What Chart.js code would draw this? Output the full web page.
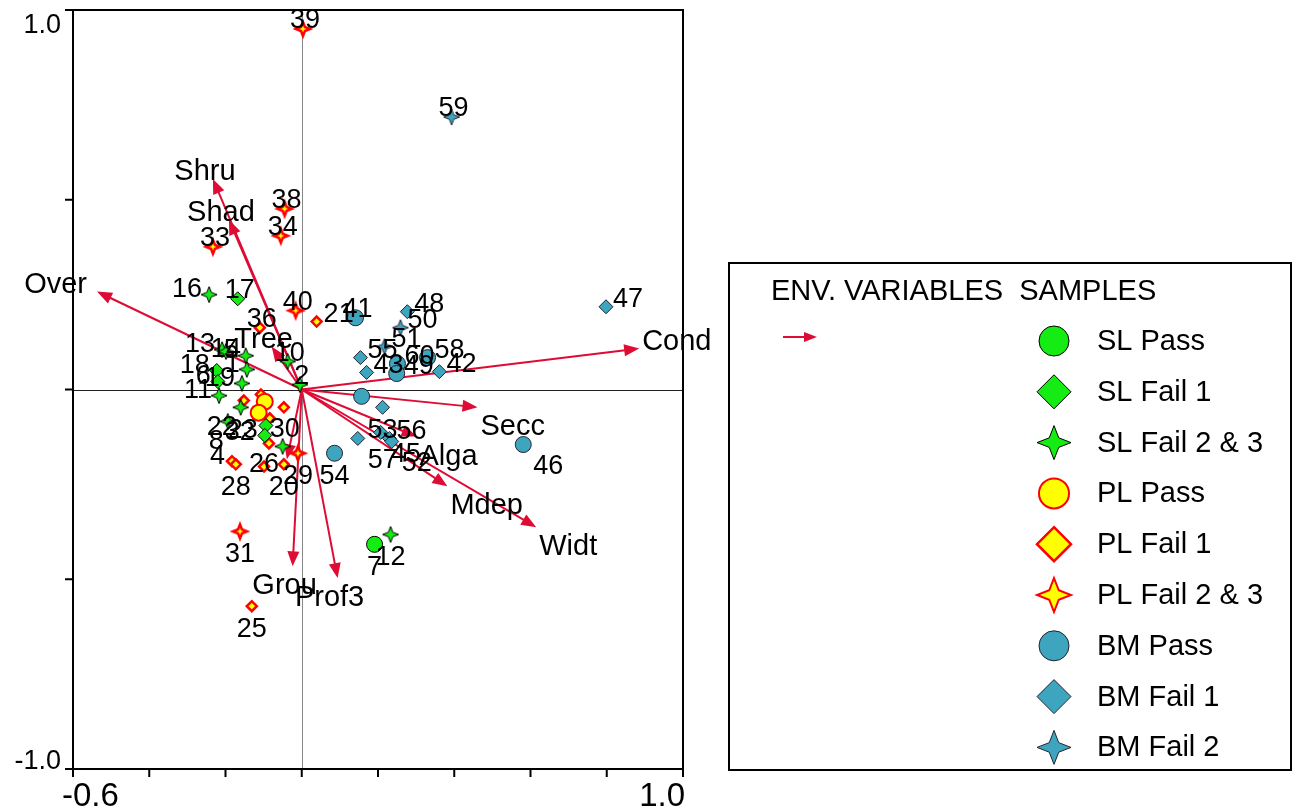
<!DOCTYPE html>
<html>
<head>
<meta charset="utf-8">
<script src="https://cdn.jsdelivr.net/npm/chart.js@4.4.1/dist/chart.umd.min.js"></script>
<style>
  html, body { margin: 0; padding: 0; background: #fff; }
  #wrap { width: 1294px; height: 810px; }
</style>
</head>
<body>
<div id="wrap"><canvas id="biplot" width="1294" height="810"></canvas></div>
<script>
// environmental variables (arrow tips)
var envNames = ["Over", "Shru", "Shad", "Tree", "Cond", "Secc", "Alga", "Mdep", "Widt", "Grou", "Prof3", ""];
var envX = [-0.537, -0.233, -0.191, -0.079, 0.885, 0.461, 0.301, 0.382, 0.615, -0.024, 0.094, -0.039];
var envY = [0.258, 0.555, 0.447, 0.113, 0.108, -0.047, -0.124, -0.255, -0.363, -0.466, -0.497, -0.184];

// samples: [number, axis 1, axis 2]
var slPass = [[7, 0.191, -0.408]];
var slFail1 = [[17, -0.168, 0.239], [18, -0.223, 0.050], [6, -0.220, 0.021], [27, -0.094, -0.095], [23, -0.097, -0.121]];
var slFail23 = [[16, -0.243, 0.250], [13, -0.209, 0.105], [14, -0.199, 0.100], [5, -0.147, 0.089], [1, -0.144, 0.053],
                [19, -0.157, 0.016], [11, -0.217, -0.016], [10, -0.037, 0.074], [2, -0.005, 0.013], [12, 0.233, -0.382],
                [22, -0.160, -0.047], [8, -0.194, -0.084], [30, -0.050, -0.150]];
var plPass = [[37, -0.097, -0.032], [32, -0.113, -0.061]];
var plFail1 = [[21, 0.039, 0.179], [36, -0.110, 0.163], [25, -0.131, -0.571], [4, -0.183, -0.189], [26, -0.099, -0.203],
               [15, -0.152, -0.029], [35, -0.107, -0.013], [3, -0.047, -0.047], [28, -0.173, -0.197], [9, -0.084, -0.076],
               [24, -0.086, -0.142], [20, -0.047, -0.197]];
var plFail23 = [[39, 0.003, 0.950], [38, -0.045, 0.476], [34, -0.055, 0.405], [33, -0.233, 0.376], [40, -0.016, 0.208],
                [31, -0.162, -0.374], [29, -0.010, -0.168]];
var bmPass = [[41, 0.141, 0.189], [54, 0.086, -0.168], [46, 0.581, -0.145], [44, 0.157, -0.018], [60, 0.251, 0.068],
              [49, 0.249, 0.042], [58, 0.330, 0.084]];
var bmFail1 = [[47, 0.798, 0.218], [48, 0.277, 0.205], [42, 0.361, 0.047], [55, 0.154, 0.084], [43, 0.170, 0.045],
               [53, 0.212, -0.047], [57, 0.147, -0.129], [45, 0.207, -0.113], [56, 0.230, -0.129], [52, 0.236, -0.137]];
var bmFail2 = [[59, 0.393, 0.718], [50, 0.259, 0.163], [51, 0.217, 0.113]];

var xTicks = [-0.6, -0.4, -0.2, 0, 0.2, 0.4, 0.6, 0.8, 1.0];
var yTicks = [-1.0, -0.5, 0, 0.5, 1.0];
var xTickLabels = ["-0.6", "", "", "", "", "", "", "", "1.0"];
var yTickLabels = ["-1.0", "", "", "", "1.0"];

var groupNames = ["SL Pass", "SL Fail 1", "SL Fail 2 & 3", "PL Pass", "PL Fail 1", "PL Fail 2 & 3", "BM Pass", "BM Fail 1", "BM Fail 2"];

// where each sample number sits relative to its symbol
var labelSide = {16: 'l', 13: 'l', 5: 'l', 1: 'l', 19: 'l', 11: 'l', 18: 'l', 6: 'l', 4: 'l', 23: 'l',
    22: 'bl', 8: 'bl', 32: 'bl',
    21: 'r', 47: 'r', 48: 'r', 50: 'r', 51: 'r', 42: 'r', 55: 'r', 43: 'r', 49: 'r', 60: 'r', 58: 'r', 56: 'r',
    7: 'b', 12: 'b', 25: 'b', 31: 'b', 54: 'b', 53: 'b', 29: 'b', 28: 'b', 20: 'b',
    46: 'br', 57: 'br', 45: 'br', 52: 'br',
    14: 'c', 26: 'c', 30: 'aa',
    27: 'n', 37: 'n', 15: 'n', 35: 'n', 3: 'n', 9: 'n', 44: 'n', 24: 'n'};

var GREEN = '#14ec14', YELLOW = '#ffff00', RED = '#ff0000', TEAL = '#3ea5bf';
var ARROW = 'rgb(222,12,52)';
var FONT = '"Liberation Sans", Arial, sans-serif';

function starPath(g, cx, cy, r) {
    var ri = r * 0.28;
    g.beginPath();
    g.moveTo(cx, cy - r);
    g.lineTo(cx + ri, cy - ri);
    g.lineTo(cx + r, cy);
    g.lineTo(cx + ri, cy + ri);
    g.lineTo(cx, cy + r);
    g.lineTo(cx - ri, cy + ri);
    g.lineTo(cx - r, cy);
    g.lineTo(cx - ri, cy - ri);
    g.closePath();
}
function starCanvas(r, fill, edge, lw) {
    var s = Math.ceil(2 * r + 2 * lw + 2);
    if (s % 2) s++;
    var c = document.createElement('canvas');
    c.width = s; c.height = s;
    var g = c.getContext('2d');
    starPath(g, s / 2, s / 2, r);
    g.fillStyle = fill; g.fill();
    g.lineWidth = lw; g.strokeStyle = edge; g.stroke();
    return c;
}

function pts(arr) {
    return arr.map(function (p) { return { x: p[1], y: p[2], id: p[0] }; });
}

var styles = [
    { data: slPass, pointStyle: 'circle', radius: 8, bg: GREEN, bc: '#000', bw: 1 },
    { data: slFail1, pointStyle: 'rectRot', radius: 7, bg: GREEN, bc: '#000', bw: 1 },
    { data: slFail23, pointStyle: starCanvas(8, GREEN, '#000', 1), radius: 8, bg: GREEN, bc: '#000', bw: 1 },
    { data: plPass, pointStyle: 'circle', radius: 8, bg: YELLOW, bc: RED, bw: 2 },
    { data: plFail1, pointStyle: 'rectRot', radius: 5, bg: YELLOW, bc: RED, bw: 2.5 },
    { data: plFail23, pointStyle: starCanvas(7, YELLOW, RED, 2.5), radius: 7, bg: YELLOW, bc: RED, bw: 2 },
    { data: bmPass, pointStyle: 'circle', radius: 8, bg: TEAL, bc: '#223', bw: 1 },
    { data: bmFail1, pointStyle: 'rectRot', radius: 7, bg: TEAL, bc: '#223', bw: 1 },
    { data: bmFail2, pointStyle: starCanvas(8, TEAL, '#223', 1), radius: 8, bg: TEAL, bc: '#223', bw: 1 }
];

var datasets = styles.map(function (s, i) {
    return {
        label: groupNames[i],
        data: pts(s.data),
        pointStyle: s.pointStyle,
        pointRadius: s.radius,
        pointBackgroundColor: s.bg,
        pointBorderColor: s.bc,
        pointBorderWidth: s.bw
    };
});

function drawArrow(ctx, x0, y0, x1, y1, head, wid) {
    var a = Math.atan2(y1 - y0, x1 - x0);
    ctx.beginPath();
    ctx.moveTo(x0, y0);
    ctx.lineTo(x1 - Math.cos(a) * head * 0.8, y1 - Math.sin(a) * head * 0.8);
    ctx.stroke();
    ctx.beginPath();
    ctx.moveTo(x1, y1);
    ctx.lineTo(x1 - Math.cos(a) * head - Math.sin(a) * wid, y1 - Math.sin(a) * head + Math.cos(a) * wid);
    ctx.lineTo(x1 - Math.cos(a) * head + Math.sin(a) * wid, y1 - Math.sin(a) * head - Math.cos(a) * wid);
    ctx.closePath();
    ctx.fill();
}

var biplotPlugin = {
    id: 'biplot',
    beforeDatasetsDraw: function (chart) {
        var ctx = chart.ctx, xs = chart.scales.x, ys = chart.scales.y, ca = chart.chartArea;
        var x0 = xs.getPixelForValue(0), y0 = ys.getPixelForValue(0);
        ctx.save();
        ctx.lineWidth = 1;
        ctx.strokeStyle = '#888';
        ctx.beginPath(); ctx.moveTo(Math.round(x0) + 0.5, ca.top); ctx.lineTo(Math.round(x0) + 0.5, ca.bottom); ctx.stroke();
        ctx.strokeStyle = '#222';
        ctx.beginPath(); ctx.moveTo(ca.left, Math.round(y0) + 0.5); ctx.lineTo(ca.right, Math.round(y0) + 0.5); ctx.stroke();
        ctx.strokeStyle = ARROW; ctx.fillStyle = ARROW; ctx.lineWidth = 2;
        for (var i = 0; i < envNames.length; i++) {
            drawArrow(ctx, x0, y0, xs.getPixelForValue(envX[i]), ys.getPixelForValue(envY[i]), 15, 6);
        }
        ctx.restore();
    },
    afterDatasetsDraw: function (chart) {
        var ctx = chart.ctx, xs = chart.scales.x, ys = chart.scales.y, ca = chart.chartArea;
        var x0 = xs.getPixelForValue(0), y0 = ys.getPixelForValue(0);
        ctx.save();
        ctx.fillStyle = '#000';

        // sample numbers
        ctx.font = '27px ' + FONT;
        chart.data.datasets.forEach(function (ds) {
            ds.data.forEach(function (p) {
                var side = labelSide[p.id] || 'a';
                if (side === 'n') return;
                var px = xs.getPixelForValue(p.x), py = ys.getPixelForValue(p.y);
                var t = String(p.id);
                ctx.textBaseline = 'middle';
                if (side === 'a') { ctx.textAlign = 'center'; ctx.fillText(t, px + 2, py - 8); }
                else if (side === 'aa') { ctx.textAlign = 'center'; ctx.fillText(t, px + 2, py - 17); }
                else if (side === 'b') { ctx.textAlign = 'center'; ctx.fillText(t, px, py + 23); }
                else if (side === 'l') { ctx.textAlign = 'right'; ctx.fillText(t, px - 7, py - 5); }
                else if (side === 'r') { ctx.textAlign = 'left'; ctx.fillText(t, px + 7, py - 7); }
                else if (side === 'br') { ctx.textAlign = 'left'; ctx.fillText(t, px + 10, py + 22); }
                else if (side === 'bl') { ctx.textAlign = 'right'; ctx.fillText(t, px - 4, py + 20); }
                else { ctx.textAlign = 'center'; ctx.fillText(t, px, py - 2); }
            });
        });

        // variable names at the arrow tips
        ctx.font = '29px ' + FONT;
        for (var i = 0; i < envNames.length; i++) {
            var tx = xs.getPixelForValue(envX[i]), ty = ys.getPixelForValue(envY[i]);
            var dx = tx - x0, dy = ty - y0, len = Math.sqrt(dx * dx + dy * dy);
            var lx, ly;
            if (dx / len > 0.3) { ctx.textAlign = 'left'; lx = tx + 3; }
            else if (dx / len < -0.7) { ctx.textAlign = 'right'; lx = tx - 10; }
            else { ctx.textAlign = 'center'; lx = tx - 8; }
            ly = dy > 5 ? ty + 20 : ty - 7;
            ctx.fillText(envNames[i], lx, ly);
        }

        // frame, ticks, tick labels
        ctx.strokeStyle = '#000';
        ctx.lineWidth = 2;
        ctx.strokeRect(ca.left, ca.top, ca.right - ca.left, ca.bottom - ca.top);
        ctx.beginPath();
        xTicks.forEach(function (v) {
            var px = xs.getPixelForValue(v);
            ctx.moveTo(px, ca.bottom); ctx.lineTo(px, ca.bottom + 8);
        });
        yTicks.forEach(function (v) {
            var py = ys.getPixelForValue(v);
            ctx.moveTo(ca.left, py); ctx.lineTo(ca.left - 8, py);
        });
        ctx.stroke();

        ctx.font = '33px ' + FONT;
        ctx.textBaseline = 'middle';
        xTicks.forEach(function (v, k) {
            if (!xTickLabels[k]) return;
            var px = xs.getPixelForValue(v);
            ctx.textAlign = k === 0 ? 'left' : 'right';
            ctx.fillText(xTickLabels[k], k === 0 ? px - 11 : px + 2, 797);
        });
        ctx.font = '27px ' + FONT;
        ctx.textAlign = 'right';
        yTicks.forEach(function (v, k) {
            if (!yTickLabels[k]) return;
            var py = ys.getPixelForValue(v);
            ctx.fillText(yTickLabels[k], 61, v > 0 ? py + 16 : py - 7);
        });

        // legend box
        ctx.lineWidth = 2;
        ctx.strokeRect(729, 263, 562, 507);
        ctx.font = '29px ' + FONT;
        ctx.textAlign = 'left';
        ctx.fillText('ENV. VARIABLES  SAMPLES', 771, 292);
        ctx.strokeStyle = ARROW; ctx.fillStyle = ARROW;
        drawArrow(ctx, 783, 337, 817, 337, 13, 5);
        for (var j = 0; j < groupNames.length; j++) {
            var cy = 341 + j * 50.8, cx = 1054, s = styles[j];
            ctx.fillStyle = s.bg; ctx.strokeStyle = s.bc; ctx.lineWidth = s.bw;
            ctx.beginPath();
            if (s.pointStyle === 'circle') ctx.arc(cx, cy, 15, 0, Math.PI * 2);
            else if (s.pointStyle === 'rectRot') {
                ctx.moveTo(cx, cy - 17); ctx.lineTo(cx + 17, cy); ctx.lineTo(cx, cy + 17); ctx.lineTo(cx - 17, cy); ctx.closePath();
            } else starPath(ctx, cx, cy, 17);
            ctx.fill(); ctx.stroke();
            ctx.fillStyle = '#000';
            ctx.fillText(groupNames[j], 1097, cy + 1);
        }
        ctx.restore();
    }
};

new Chart(document.getElementById('biplot').getContext('2d'), {
    type: 'scatter',
    data: { datasets: datasets },
    options: {
        responsive: false,
        animation: false,
        layout: { padding: { left: 73, right: 611, top: 8, bottom: 41 } },
        scales: {
            x: { type: 'linear', min: -0.6, max: 1.0, display: false },
            y: { type: 'linear', min: -1.0, max: 1.0, display: false }
        },
        plugins: { legend: { display: false }, tooltip: { enabled: false } }
    },
    plugins: [biplotPlugin]
});
</script>
</body>
</html>
